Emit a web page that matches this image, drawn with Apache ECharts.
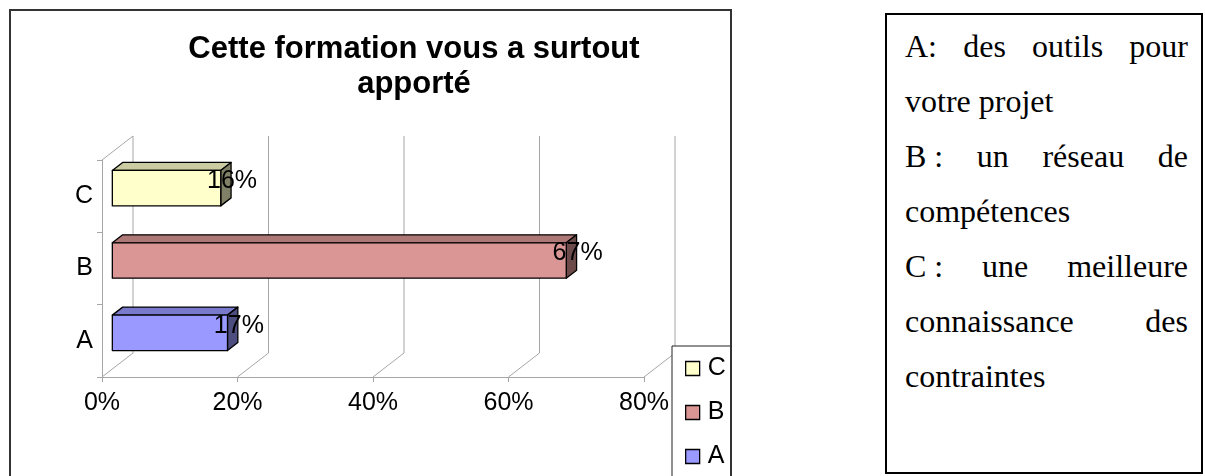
<!DOCTYPE html>
<html>
<head>
<meta charset="utf-8">
<script src="https://cdn.jsdelivr.net/npm/echarts@6/dist/echarts.min.js"></script>
<style>
html, body { margin: 0; padding: 0; background: #fff; }
#chart { position: absolute; left: 0; top: 0; width: 1205px; height: 476px; }
#note { position: absolute; left: 885px; top: 13px; width: 318px; height: 461px;
        border: 2px solid #000; box-sizing: border-box; background: #fff; }
#note .txt { position: absolute; left: 18px; top: 4px; width: 283px;
             font: 32px/55px "Liberation Serif", "Times New Roman", serif; color: #000; }
#note .txt span { display: block; white-space: nowrap; }
#note .txt .j { text-align: justify; text-align-last: justify; }
#note .txt span.k { display: inline-block; }
</style>
</head>
<body>
<div id="chart"></div>
<div id="note">
  <div class="txt">
    <span class="j">A: des outils pour</span>
    <span>votre projet</span>
    <span class="j"><span class="k">B&nbsp;:</span> un réseau de</span>
    <span>compétences</span>
    <span class="j"><span class="k">C&nbsp;:</span> une meilleure</span>
    <span class="j">connaissance des</span>
    <span>contraintes</span>
  </div>
</div>
<script>
var categories = ['A', 'B', 'C'];
var values = [17, 67, 16];
var barColors = ['#9999FF', '#D99694', '#FFFFCC'];
var xTicks = [0, 20, 40, 60, 80];
var legendOrder = ['C', 'B', 'A'];
var titleText = 'Cette formation vous a surtout\napporté';

var FONT = '"Liberation Sans", Arial, sans-serif';
var GRID_COLOR = '#A6A6A6';
// 3d depth of the plot walls
var DX = 31, DY = -24;

function shade(hex, k) {
    var n = parseInt(hex.slice(1), 16);
    var r = (n >> 16) & 255, g = (n >> 8) & 255, b = n & 255;
    return 'rgb(' + Math.round(r * k) + ',' + Math.round(g * k) + ',' + Math.round(b * k) + ')';
}

function renderWall(params, api) {
    var cs = params.coordSys;
    var x = api.coord([api.value(0), 0])[0];
    var top = cs.y, bottom = cs.y + cs.height;
    var children = [{
        type: 'polyline',
        shape: { points: [[x, bottom], [x + DX, bottom + DY], [x + DX, top + DY]] },
        style: { stroke: GRID_COLOR, lineWidth: 1, fill: null }
    }];
    if (api.value(0) === xTicks[0]) {
        children.push({
            type: 'line',
            shape: { x1: x, y1: top, x2: x + DX, y2: top + DY },
            style: { stroke: GRID_COLOR, lineWidth: 1 }
        });
    }
    return { type: 'group', children: children };
}

function renderBar(params, api) {
    var cat = api.value(1);
    var p0 = api.coord([0, cat]);
    var p1 = api.coord([api.value(0), cat]);
    var h = api.size([0, 1])[1] * 0.49;
    var ox = DX / 3, oy = DY / 3;   // front face offset into the depth
    var bx = DX / 3, by = DY / 3;   // bar depth
    var x0 = p0[0] + ox, x1 = p1[0] + ox;
    var yT = p1[1] + oy - h / 2, yB = yT + h;
    var base = api.visual('color');
    var edge = { stroke: '#000', lineWidth: 1.3, lineJoin: 'round' };
    return {
        type: 'group',
        children: [
            { type: 'polygon',
              shape: { points: [[x0, yT], [x1, yT], [x1 + bx, yT + by], [x0 + bx, yT + by]] },
              style: Object.assign({ fill: shade(base, 0.8) }, edge) },
            { type: 'polygon',
              shape: { points: [[x1, yT], [x1 + bx, yT + by], [x1 + bx, yB + by], [x1, yB]] },
              style: Object.assign({ fill: shade(base, 0.5) }, edge) },
            { type: 'rect',
              shape: { x: x0, y: yT, width: x1 - x0, height: h },
              style: Object.assign({ fill: base }, edge) },
            { type: 'text', z2: 10,
              x: x1 + bx + 1, y: (yT + yB) / 2 + by + 1,
              style: { text: api.value(0) + '%', font: '25px ' + FONT, fill: '#000',
                       align: 'center', verticalAlign: 'middle' } }
        ]
    };
}

var chart = echarts.init(document.getElementById('chart'));

var series = [{
    type: 'custom',
    name: 'walls',
    silent: true,
    z: 1,
    renderItem: renderWall,
    data: xTicks.map(function (v) { return [v, 0]; })
}];
categories.forEach(function (c, i) {
    series.push({
        type: 'custom',
        name: c,
        z: 3,
        itemStyle: { color: barColors[i] },
        renderItem: renderBar,
        data: [[values[i], i]]
    });
});

var option = {
    animation: false,
    grid: { left: 102, top: 160, width: 542, height: 217 },
    xAxis: {
        type: 'value',
        min: 0,
        max: 80,
        interval: 20,
        axisLine: { show: true, lineStyle: { color: GRID_COLOR } },
        axisTick: { show: true, length: 5, lineStyle: { color: GRID_COLOR } },
        splitLine: { show: false },
        axisLabel: { formatter: '{value}%', fontSize: 25, fontFamily: FONT, color: '#000', margin: 14, lineHeight: 25 }
    },
    yAxis: {
        type: 'category',
        data: categories,
        axisLine: { show: true, lineStyle: { color: GRID_COLOR } },
        axisTick: { show: true, length: 5, lineStyle: { color: GRID_COLOR } },
        splitLine: { show: false },
        axisLabel: { fontSize: 25, fontFamily: FONT, color: '#000', margin: 9 }
    },
    legend: {
        data: legendOrder,
        orient: 'vertical',
        left: 685,
        top: 356,
        padding: 0,
        itemWidth: 14,
        itemHeight: 14,
        itemGap: 19,
        icon: 'rect',
        selectedMode: false,
        z: 10,
        itemStyle: { borderColor: '#000', borderWidth: 1.3 },
        textStyle: { fontSize: 25, fontFamily: FONT, color: '#000', lineHeight: 25, padding: [0, 0, 0, 3] }
    },
    graphic: [
        { type: 'rect', z: 5, silent: true,
          shape: { x: 672, y: 346, width: 59, height: 200 },
          style: { fill: '#fff', stroke: '#222', lineWidth: 1 } },
        { type: 'rect', z: 6, silent: true,
          shape: { x: 10, y: 10, width: 721, height: 500 },
          style: { fill: 'none', stroke: '#333', lineWidth: 2 } },
        { type: 'text', z: 6, x: 414, y: 32,
          style: { text: titleText, font: 'bold 31px ' + FONT, fill: '#000',
                   align: 'center', verticalAlign: 'top', lineHeight: 35 } }
    ],
    series: series
};

chart.setOption(option);
</script>
</body>
</html>
